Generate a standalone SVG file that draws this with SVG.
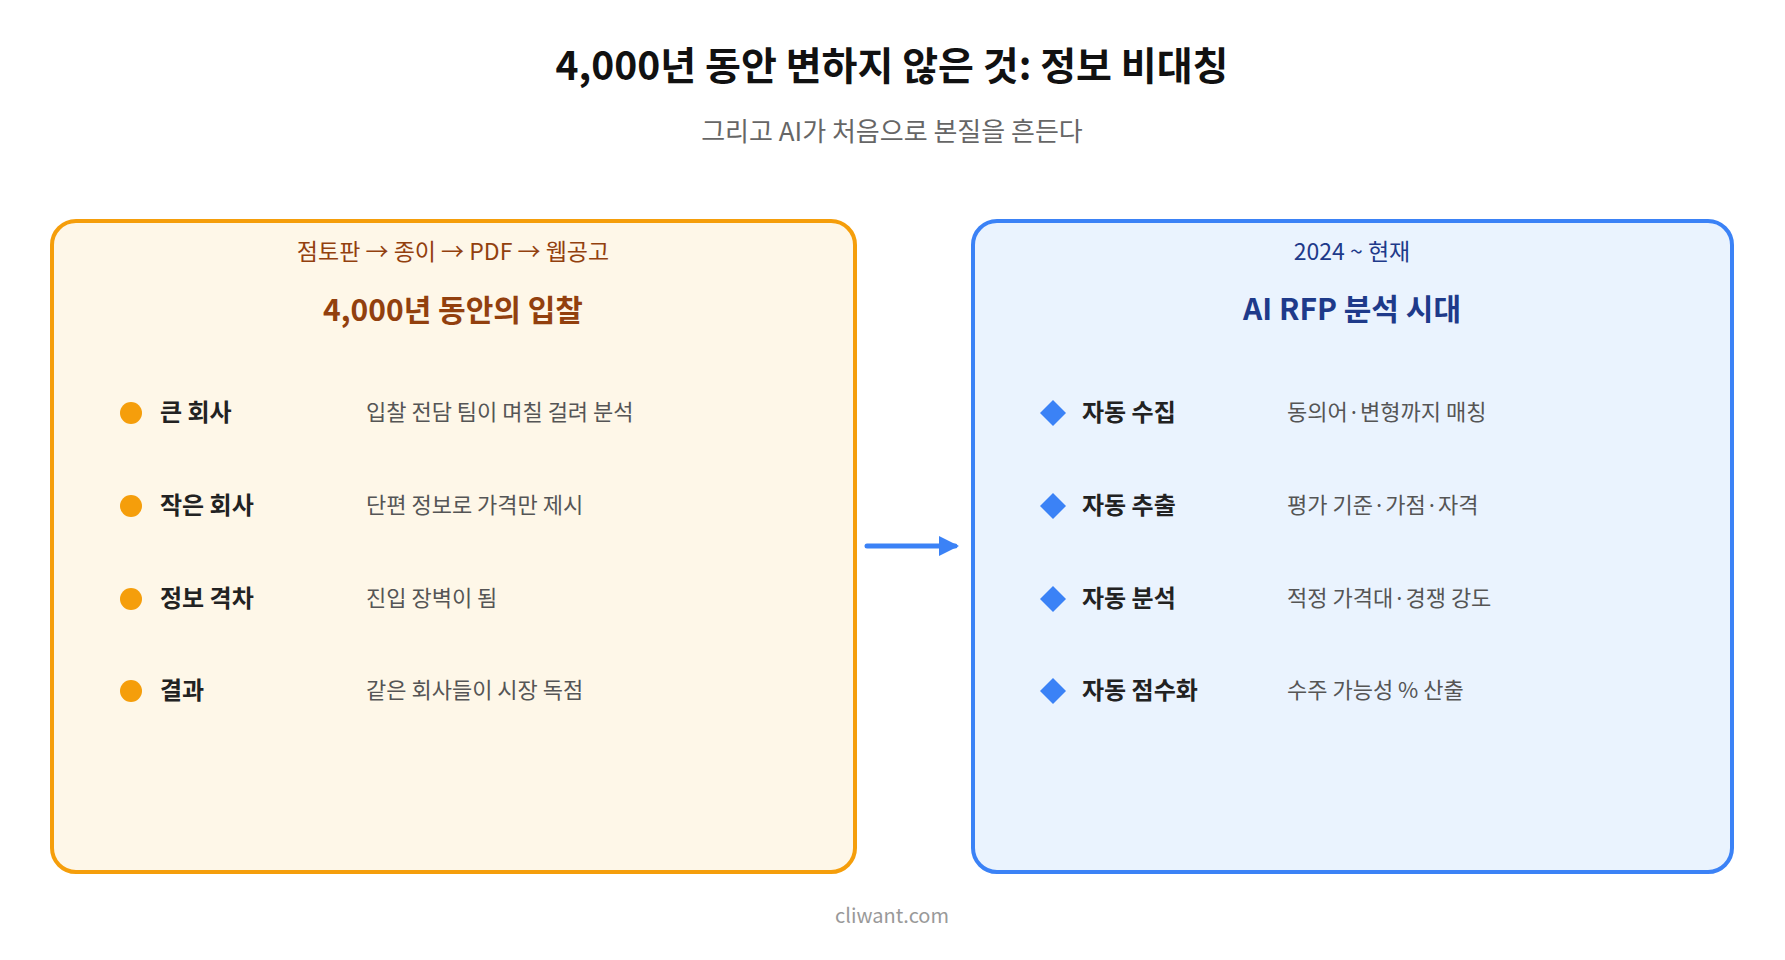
<svg xmlns="http://www.w3.org/2000/svg" width="1785" height="960" viewBox="0 0 1785 960">
<style>
text{font-family:"Noto Sans CJK KR","Noto Sans",sans-serif}
.t{font-size:39px;font-weight:700;fill:#111}
.s{font-size:26px;fill:#666}
.hl{font-size:23px;fill:#92400e}
.hr{font-size:23px;fill:#1e3a8a}
.bl{font-size:30px;font-weight:700;fill:#92400e}
.br{font-size:30px;font-weight:700;fill:#1e3a8a}
.lb{font-size:24px;font-weight:700;fill:#222}
.d{font-size:22px;fill:#555}
.f{font-size:20px;fill:#999}
</style>
<defs><marker id="ah" viewBox="0 0 10 10" refX="8" refY="5" markerWidth="4" markerHeight="4" orient="auto"><path d="M0,0L10,5L0,10z" fill="#3b82f6"/></marker></defs>
<rect width="1785" height="960" fill="#fff"/>
<text class="t" x="892" y="80" text-anchor="middle">4,000년 동안 변하지 않은 것: 정보 비대칭</text>
<text class="s" x="892" y="141" text-anchor="middle">그리고 AI가 처음으로 본질을 흔든다</text>
<g id="left">
<rect x="52" y="221" width="803" height="651" rx="24" fill="#fef7e8" stroke="#f59e0b" stroke-width="4"/>
<text class="hl" x="453" y="260" text-anchor="middle">점토판 → 종이 → PDF → 웹공고</text>
<text class="bl" x="453" y="321" text-anchor="middle">4,000년 동안의 입찰</text>
</g>
<g id="l1"><circle cx="131" cy="413" r="11" fill="#f59e0b"/><text class="lb" x="160" y="421">큰 회사</text><text class="d" x="366" y="420">입찰 전담 팀이 며칠 걸려 분석</text></g>
<g id="l2"><circle cx="131" cy="506" r="11" fill="#f59e0b"/><text class="lb" x="160" y="514">작은 회사</text><text class="d" x="366" y="513">단편 정보로 가격만 제시</text></g>
<g id="l3"><circle cx="131" cy="599" r="11" fill="#f59e0b"/><text class="lb" x="160" y="607">정보 격차</text><text class="d" x="366" y="606">진입 장벽이 됨</text></g>
<g id="l4"><circle cx="131" cy="691" r="11" fill="#f59e0b"/><text class="lb" x="160" y="699">결과</text><text class="d" x="366" y="698">같은 회사들이 시장 독점</text></g>
<g id="right">
<rect x="973" y="221" width="759" height="651" rx="24" fill="#eaf3fe" stroke="#3b82f6" stroke-width="4"/>
<text class="hr" x="1352" y="260" text-anchor="middle">2024 ~ 현재</text>
<text class="br" x="1352" y="320" text-anchor="middle">AI RFP 분석 시대</text>
</g>
<g id="r1"><path d="M1053 400l13 13-13 13-13-13z" fill="#3b82f6"/><text class="lb" x="1082" y="421">자동 수집</text><text class="d" x="1287" y="420">동의어·변형까지 매칭</text></g>
<g id="r2"><path d="M1053 493l13 13-13 13-13-13z" fill="#3b82f6"/><text class="lb" x="1082" y="514">자동 추출</text><text class="d" x="1287" y="513">평가 기준·가점·자격</text></g>
<g id="r3"><path d="M1053 586l13 13-13 13-13-13z" fill="#3b82f6"/><text class="lb" x="1082" y="607">자동 분석</text><text class="d" x="1287" y="606">적정 가격대·경쟁 강도</text></g>
<g id="r4"><path d="M1053 678l13 13-13 13-13-13z" fill="#3b82f6"/><text class="lb" x="1082" y="699">자동 점수화</text><text class="d" x="1287" y="698">수주 가능성 % 산출</text></g>
<g id="connectors"><line x1="867" y1="546" x2="955" y2="546" stroke="#3b82f6" stroke-width="5" stroke-linecap="round" marker-end="url(#ah)"/></g>
<text class="f" x="892" y="923" text-anchor="middle">cliwant.com</text>
</svg>
